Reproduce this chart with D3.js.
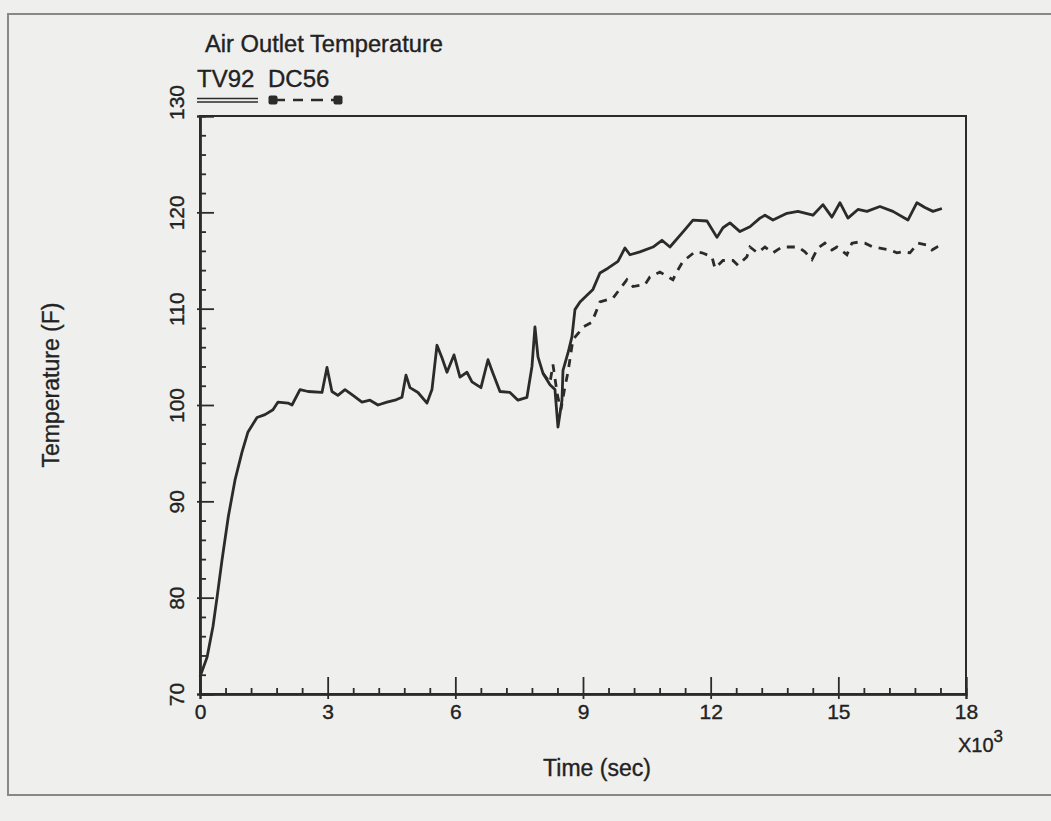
<!DOCTYPE html>
<html>
<head>
<meta charset="utf-8">
<script src="https://cdn.jsdelivr.net/npm/d3@7"></script>
<style>
  html, body { margin: 0; padding: 0; background: #efefed; }
  text { font-family: "Liberation Sans", Arial, sans-serif; fill: #222; stroke: #222; stroke-width: 0.35px; }
</style>
</head>
<body>
<div id="chart"></div>
<script>
// TV92 (solid)
var tv92Time = [0, 165, 305, 400, 517, 665, 822, 987, 1128, 1340, 1527, 1715, 1833, 2068, 2162,
    2350, 2540, 2867, 2984, 3100, 3240, 3407, 3595, 3806, 3994, 4182, 4394, 4582, 4746, 4840,
    4934, 5122, 5334, 5451, 5569, 5686, 5804, 5968, 6109, 6273, 6391, 6602, 6767, 6884, 7049,
    7284, 7472, 7683, 7801, 7871, 7942, 8059, 8224, 8341, 8412, 8506, 8530, 8647, 8741, 8811,
    8929, 9093, 9234, 9398, 9587, 9822, 9986, 10103, 10338, 10644, 10855, 11043, 11396, 11584,
    11913, 12148, 12289, 12453, 12688, 12923, 13158, 13276, 13464, 13793, 14051, 14403, 14638,
    14849, 15038, 15226, 15461, 15672, 15977, 16283, 16635, 16847, 17035, 17223, 17434];
var tv92Temp = [71.8, 73.8, 77, 80, 83.9, 88.4, 92.2, 95.1, 97.2, 98.7, 99, 99.5, 100.3, 100.2, 100,
    101.6, 101.4, 101.3, 103.9, 101.4, 101, 101.6, 101, 100.3, 100.5, 100, 100.3, 100.5, 100.8, 103.1,
    101.8, 101.3, 100.2, 101.6, 106.2, 104.9, 103.4, 105.2, 102.9, 103.4, 102.4, 101.8, 104.7, 103.3, 101.4,
    101.3, 100.5, 100.8, 104, 108.1, 105, 103.3, 102.1, 101.6, 97.7, 100.5, 103.6, 105.4, 107.1, 109.9,
    110.7, 111.4, 112, 113.7, 114.2, 114.9, 116.3, 115.6, 115.9, 116.4, 117.1, 116.4, 118.2, 119.2,
    119.1, 117.4, 118.4, 118.9, 118, 118.5, 119.4, 119.7, 119.2, 119.9, 120.1, 119.7, 120.8,
    119.5, 121, 119.4, 120.3, 120.1, 120.6, 120.1, 119.2, 121, 120.5, 120.1, 120.4];

// DC56 (dashed) - lies under TV92 before ~8000 s
var dc56Time = [8059, 8224, 8294, 8400, 8480, 8560, 8650, 8764, 8900, 9000, 9210, 9398, 9704,
    10033, 10174, 10456, 10573, 10808, 11114, 11200, 11349, 11631, 11795, 12030, 12101, 12289,
    12524, 12641, 12852, 12923, 13100, 13276, 13464, 13675, 14051, 14215, 14380, 14521, 14685,
    14849, 14967, 15202, 15320, 15461, 15625, 15813, 16212, 16377, 16518, 16683, 16870, 17082,
    17200, 17317, 17505];
var dc56Temp = [103.3, 102.3, 104.2, 101, 99.5, 101.5, 103.5, 106.8, 107.5, 108.1, 108.6, 110.7, 111.1,
    113, 112.3, 112.5, 113.3, 113.8, 113, 113.8, 114.9, 115.9, 115.8, 115.4, 114.2, 115,
    115, 114.5, 115.4, 116.4, 115.8, 116.4, 115.8, 116.4, 116.4, 115.9, 115.1, 116.3, 116.8,
    116.1, 116.4, 115.6, 116.8, 116.9, 116.8, 116.4, 116.1, 115.8, 115.9, 115.8, 116.8, 116.6,
    116.1, 116.4, 116.6];

var xMajor = [0, 3000, 6000, 9000, 12000, 15000, 18000];
var yMajor = [70, 80, 90, 100, 110, 120, 130];

var width = 1051, height = 821;
var ink = "#2b2b2b";

var svg = d3.select("#chart").append("svg")
    .attr("width", width)
    .attr("height", height);

// scanned page border
svg.append("rect")
    .attr("x", 8).attr("y", 14)
    .attr("width", 1060).attr("height", 781)
    .attr("fill", "none")
    .attr("stroke", "#888")
    .attr("stroke-width", 2);

var x = d3.scaleLinear().domain([0, 18000]).range([200, 966]);
var y = d3.scaleLinear().domain([70, 130]).range([694, 116]);

var minorX = d3.range(0, 18001, 600).filter(function(d) { return d % 3000 !== 0; });
var minorY = d3.range(70, 131, 2).filter(function(d) { return d % 10 !== 0; });

// frame
svg.append("rect")
    .attr("x", x(0)).attr("y", y(130))
    .attr("width", x(18000) - x(0)).attr("height", y(70) - y(130))
    .attr("fill", "none")
    .attr("stroke", ink)
    .attr("stroke-width", 2);

// x axis: minor ticks inside, major ticks crossing
var gx = svg.append("g").attr("transform", "translate(0," + y(70) + ")");
gx.append("g")
    .call(d3.axisTop(x).tickValues(minorX).tickSize(6).tickFormat(""));
gx.append("g")
    .call(d3.axisTop(x).tickValues(xMajor).tickSize(17).tickFormat(""));
gx.append("g")
    .call(d3.axisBottom(x).tickValues(xMajor).tickSize(5).tickFormat(function(d) { return d / 1000; }))
    .selectAll("text")
    .attr("y", 25).attr("dy", 0)
    .style("font-size", "21px");

// y axis
var gy = svg.append("g").attr("transform", "translate(" + x(0) + ",0)");
gy.append("g")
    .call(d3.axisRight(y).tickValues(minorY).tickSize(6).tickFormat(""));
gy.append("g")
    .call(d3.axisRight(y).tickValues(yMajor).tickSize(14).tickFormat(""));
gy.append("g")
    .call(d3.axisLeft(y).tickValues(yMajor).tickSize(3))
    .selectAll("text")
    .attr("transform", "rotate(-90)")
    .attr("x", function(d) { return d === 130 ? 14 : 0; })
    .attr("y", -16).attr("dy", 0)
    .attr("text-anchor", "middle")
    .style("font-size", "21px");

svg.selectAll(".domain").attr("stroke", ink).attr("stroke-width", 2);
svg.selectAll(".tick line").attr("stroke", ink).attr("stroke-width", 1.8);
svg.selectAll(".tick text").attr("fill", "#222");

// lines
var line = d3.line()
    .x(function(d) { return x(d[0]); })
    .y(function(d) { return y(d[1]); });

svg.append("path")
    .datum(d3.zip(dc56Time, dc56Temp))
    .attr("d", line)
    .attr("fill", "none")
    .attr("stroke", ink)
    .attr("stroke-width", 2.8)
    .attr("stroke-dasharray", "8,7");

svg.append("path")
    .datum(d3.zip(tv92Time, tv92Temp))
    .attr("d", line)
    .attr("fill", "none")
    .attr("stroke", ink)
    .attr("stroke-width", 2.8)
    .attr("stroke-linejoin", "round");

// titles
svg.append("text")
    .attr("x", 205).attr("y", 52)
    .attr("textLength", 238).attr("lengthAdjust", "spacingAndGlyphs")
    .style("font-size", "23px")
    .text("Air Outlet Temperature");

svg.append("text")
    .attr("x", 597).attr("y", 776)
    .attr("text-anchor", "middle")
    .style("font-size", "23px")
    .text("Time (sec)");

svg.append("text")
    .attr("transform", "translate(59,385) rotate(-90)")
    .attr("text-anchor", "middle")
    .style("font-size", "23px")
    .text("Temperature (F)");

var mult = svg.append("text")
    .attr("x", 958).attr("y", 752)
    .style("font-size", "20px");
mult.append("tspan").text("X10");
mult.append("tspan").attr("dy", -10).style("font-size", "17px").text("3");

// legend
svg.append("text").attr("x", 197).attr("y", 87).style("font-size", "24px").text("TV92");
svg.append("text").attr("x", 268).attr("y", 87).style("font-size", "24px").text("DC56");

svg.append("line")
    .attr("x1", 197).attr("x2", 258).attr("y1", 98.5).attr("y2", 98.5)
    .attr("stroke", ink).attr("stroke-width", 1.6);
svg.append("line")
    .attr("x1", 197).attr("x2", 258).attr("y1", 102).attr("y2", 102)
    .attr("stroke", ink).attr("stroke-width", 1.6);

svg.append("line")
    .attr("x1", 273).attr("x2", 338).attr("y1", 100).attr("y2", 100)
    .attr("stroke", ink).attr("stroke-width", 2.4)
    .attr("stroke-dasharray", "12,8,10,8");
svg.selectAll(".legmark").data([273, 338]).enter().append("rect")
    .attr("class", "legmark")
    .attr("x", function(d) { return d - 4.5; }).attr("y", 95.5)
    .attr("width", 9).attr("height", 9)
    .attr("rx", 2)
    .attr("fill", ink);
</script>
</body>
</html>
